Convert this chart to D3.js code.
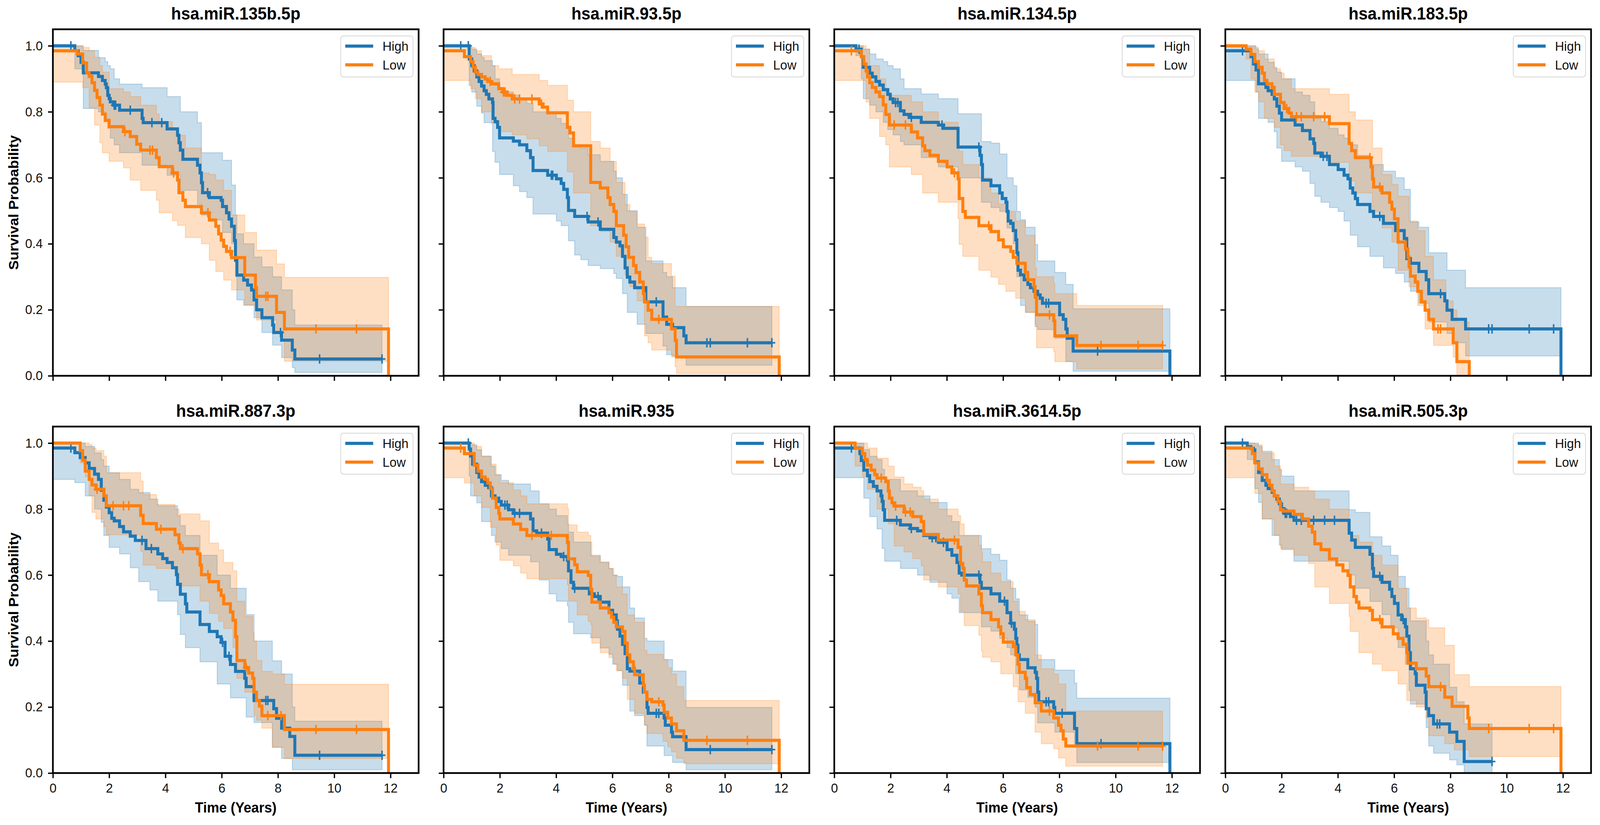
<!DOCTYPE html>
<html>
<head>
<meta charset="utf-8">
<script src="https://cdn.jsdelivr.net/npm/d3@7"></script>
<style>
  html, body { margin: 0; padding: 0; background: #fff; overflow: hidden; }
  svg { display: block; font-family: "Liberation Sans", Arial, sans-serif; }
</style>
</head>
<body>
<script>
// ---- tick labels / categories ----
const xTicks = [0, 2, 4, 6, 8, 10, 12]
const yTicks = [0, 0.2, 0.4, 0.6, 0.8, 1.0]
const groups = ['High', 'Low']
const titles = ['hsa.miR.135b.5p', 'hsa.miR.93.5p', 'hsa.miR.134.5p', 'hsa.miR.183.5p',
                'hsa.miR.887.3p', 'hsa.miR.935', 'hsa.miR.3614.5p', 'hsa.miR.505.3p']

// KM steps [years, survival], CI [years, lower, upper], censor times (years)
const p1High = [[0,1],[0.78,0.985],[0.9,0.97],[1.0,0.95],[1.08,0.918],[1.62,0.907],[1.76,0.895],[1.86,0.884],[1.9,0.873],[1.95,0.85],[2.0,0.84],[2.04,0.83],[2.15,0.82],[2.37,0.805],[3.17,0.78],[3.21,0.767],[4.06,0.748],[4.43,0.729],[4.48,0.706],[4.53,0.684],[4.62,0.656],[5.14,0.638],[5.23,0.615],[5.28,0.585],[5.32,0.555],[5.56,0.54],[5.98,0.532],[6.03,0.513],[6.17,0.494],[6.26,0.475],[6.35,0.453],[6.45,0.41],[6.49,0.35],[6.54,0.305],[6.78,0.29],[6.92,0.275],[7.06,0.26],[7.15,0.23],[7.24,0.2],[7.43,0.176],[7.81,0.154],[7.85,0.131],[8.13,0.108],[8.51,0.078],[8.6,0.051],[11.7,0.051]]
const p1HighCI = [[0,1,1],[0.78,0.93,1],[1.08,0.81,0.986],[1.62,0.8,0.964],[1.86,0.782,0.952],[1.95,0.75,0.94],[2.04,0.72,0.93],[2.18,0.7,0.9],[2.37,0.676,0.884],[3.17,0.638,0.873],[4.06,0.608,0.846],[4.53,0.562,0.8],[5.14,0.52,0.767],[5.28,0.487,0.676],[5.56,0.472,0.676],[6.03,0.434,0.653],[6.35,0.4,0.578],[6.49,0.343,0.487],[6.54,0.23,0.43],[6.78,0.214,0.4],[7.15,0.176,0.36],[7.43,0.131,0.33],[7.81,0.093,0.3],[8.13,0.055,0.26],[8.51,0.025,0.2],[8.6,0.01,0.154],[11.7,0.01,0.154]]
const p1HighCens = [0.64, 2.18, 2.23, 2.75, 3.52, 3.87, 5.5, 8.09, 9.48, 11.7]
const p1Low = [[0,0.985],[0.87,0.975],[1.06,0.948],[1.2,0.918],[1.29,0.907],[1.39,0.888],[1.48,0.865],[1.57,0.843],[1.67,0.82],[1.76,0.793],[1.86,0.774],[2.0,0.755],[2.51,0.74],[2.75,0.725],[2.98,0.702],[3.12,0.684],[3.68,0.661],[3.78,0.634],[4.25,0.615],[4.43,0.593],[4.48,0.555],[4.62,0.532],[4.71,0.513],[5.28,0.494],[5.56,0.472],[5.79,0.453],[5.89,0.43],[5.98,0.411],[6.07,0.392],[6.17,0.377],[6.35,0.358],[6.82,0.305],[7.2,0.267],[7.24,0.241],[7.95,0.192],[8.23,0.142],[11.93,0]]
const p1LowCI = [[0,0.89,1],[0.87,0.89,1],[1.06,0.873,0.995],[1.29,0.812,0.985],[1.48,0.76,0.965],[1.67,0.706,0.94],[1.76,0.676,0.92],[2.0,0.65,0.87],[2.51,0.63,0.86],[2.75,0.593,0.846],[3.12,0.562,0.82],[3.68,0.532,0.793],[3.78,0.494,0.77],[4.25,0.47,0.745],[4.43,0.456,0.729],[4.71,0.419,0.69],[5.28,0.4,0.615],[5.56,0.35,0.61],[5.79,0.316,0.593],[6.07,0.29,0.562],[6.35,0.26,0.487],[6.82,0.214,0.434],[7.24,0.169,0.381],[7.95,0.131,0.339],[8.23,0.044,0.298],[11.93,0.044,0.298]]
const p1LowCens = [2.56, 3.45, 3.54, 4.29, 5.51, 6.3, 7.57, 7.64, 9.35, 10.79]

const p2High = [[0,1],[0.91,0.96],[1.0,0.94],[1.09,0.924],[1.18,0.906],[1.26,0.892],[1.35,0.878],[1.44,0.864],[1.52,0.853],[1.61,0.839],[1.74,0.828],[1.76,0.78],[1.83,0.77],[1.92,0.753],[1.99,0.721],[2.48,0.711],[2.7,0.7],[2.96,0.682],[3.09,0.661],[3.18,0.622],[3.7,0.608],[4.01,0.597],[4.18,0.583],[4.27,0.565],[4.4,0.54],[4.44,0.501],[4.66,0.483],[5.14,0.466],[5.57,0.444],[6.05,0.419],[6.14,0.405],[6.27,0.394],[6.36,0.362],[6.45,0.327],[6.53,0.299],[6.62,0.284],[6.79,0.267],[7.19,0.224],[7.8,0.178],[7.93,0.156],[8.14,0.146],[8.54,0.121],[8.62,0.1],[11.67,0.1]]
const p2HighCI = [[0,1,1],[0.91,0.88,1],[1.0,0.86,0.99],[1.18,0.817,0.975],[1.35,0.796,0.965],[1.44,0.767,0.955],[1.74,0.68,0.94],[1.83,0.647,0.9],[1.99,0.61,0.86],[2.48,0.576,0.85],[2.7,0.558,0.84],[2.96,0.54,0.825],[3.18,0.49,0.8],[4.01,0.469,0.78],[4.18,0.455,0.765],[4.44,0.409,0.72],[4.66,0.366,0.7],[4.88,0.352,0.69],[5.14,0.334,0.67],[5.57,0.325,0.65],[6.05,0.31,0.62],[6.14,0.295,0.6],[6.36,0.249,0.55],[6.53,0.192,0.5],[6.88,0.156,0.45],[7.19,0.128,0.348],[7.8,0.09,0.313],[7.93,0.064,0.3],[8.14,0.06,0.267],[8.62,0.032,0.21],[11.67,0.032,0.21]]
const p2HighCens = [0.61, 0.88, 3.83, 3.88, 5.1, 5.49, 7.56, 9.36, 9.48, 10.8, 11.67]
const p2Low = [[0,0.985],[0.74,0.967],[0.96,0.952],[1.05,0.935],[1.13,0.92],[1.22,0.913],[1.35,0.906],[1.48,0.899],[1.57,0.892],[1.7,0.885],[1.96,0.87],[2.09,0.86],[2.26,0.85],[2.44,0.839],[3.4,0.824],[3.53,0.814],[3.7,0.797],[4.4,0.753],[4.49,0.736],[4.62,0.697],[5.23,0.586],[5.57,0.569],[5.84,0.54],[5.92,0.519],[6.05,0.498],[6.14,0.455],[6.4,0.426],[6.49,0.391],[6.58,0.359],[6.75,0.334],[6.84,0.313],[6.97,0.284],[7.1,0.249],[7.14,0.224],[7.27,0.199],[7.4,0.171],[8.1,0.142],[8.23,0.107],[8.28,0.057],[11.93,0]]
const p2LowCI = [[0,0.895,1],[0.74,0.895,1],[0.96,0.87,0.995],[1.13,0.84,0.985],[1.35,0.8,0.97],[1.7,0.765,0.94],[1.96,0.74,0.93],[2.44,0.73,0.913],[2.96,0.718,0.913],[3.4,0.697,0.895],[3.7,0.68,0.88],[4.4,0.618,0.835],[4.62,0.554,0.8],[5.23,0.455,0.71],[5.57,0.437,0.69],[5.92,0.405,0.65],[6.14,0.362,0.586],[6.45,0.306,0.519],[6.62,0.27,0.498],[6.88,0.227,0.46],[7.14,0.121,0.42],[7.27,0.1,0.359],[7.4,0.078,0.34],[8.1,0.057,0.302],[8.23,0.028,0.21],[8.28,0.007,0.21],[11.93,0.007,0.21]]
const p2LowCens = [1.66, 2.13, 2.18, 2.53, 2.7, 3.14, 3.48, 7.65]

const p3High = [[0,1],[0.77,0.99],[0.96,0.967],[1.03,0.935],[1.26,0.917],[1.35,0.906],[1.48,0.892],[1.61,0.881],[1.74,0.867],[1.9,0.853],[1.99,0.839],[2.09,0.828],[2.35,0.803],[2.48,0.792],[2.66,0.783],[3.09,0.768],[3.7,0.76],[3.88,0.75],[4.4,0.693],[5.18,0.668],[5.23,0.64],[5.27,0.593],[5.57,0.576],[5.88,0.554],[5.97,0.537],[6.1,0.526],[6.14,0.498],[6.18,0.469],[6.27,0.462],[6.36,0.44],[6.45,0.412],[6.49,0.373],[6.53,0.32],[6.62,0.306],[6.75,0.291],[6.88,0.277],[6.97,0.267],[7.1,0.256],[7.23,0.245],[7.32,0.235],[7.4,0.22],[8.01,0.185],[8.14,0.171],[8.23,0.142],[8.28,0.114],[8.49,0.075],[11.93,0]]
const p3HighCI = [[0,1,1],[0.77,0.97,1],[0.96,0.9,1],[1.03,0.84,0.99],[1.26,0.82,0.975],[1.48,0.8,0.96],[1.74,0.768,0.952],[1.9,0.746,0.94],[2.09,0.73,0.93],[2.35,0.71,0.9],[2.48,0.7,0.87],[3.09,0.661,0.854],[3.7,0.633,0.84],[4.4,0.6,0.794],[5.23,0.526,0.71],[5.57,0.51,0.705],[5.88,0.498,0.672],[6.14,0.448,0.6],[6.36,0.4,0.576],[6.49,0.3,0.498],[6.62,0.213,0.473],[6.8,0.192,0.45],[7.14,0.149,0.398],[7.23,0.14,0.348],[7.84,0.114,0.313],[8.23,0.043,0.277],[8.49,0.014,0.203],[11.93,0.014,0.203]]
const p3HighCens = [0.88, 2.18, 2.26, 2.74, 3.83, 5.14, 7.53, 7.62, 9.36]
const p3Low = [[0,0.985],[0.96,0.967],[1.05,0.945],[1.13,0.924],[1.18,0.906],[1.26,0.888],[1.35,0.874],[1.48,0.86],[1.61,0.846],[1.74,0.821],[1.83,0.792],[1.96,0.76],[2.74,0.739],[2.96,0.721],[3.14,0.697],[3.22,0.682],[3.4,0.668],[3.7,0.65],[4.01,0.633],[4.18,0.615],[4.4,0.597],[4.44,0.537],[4.57,0.498],[4.66,0.48],[5.14,0.455],[5.57,0.437],[5.84,0.412],[6.01,0.391],[6.27,0.377],[6.36,0.359],[6.49,0.341],[6.79,0.313],[6.88,0.291],[7.1,0.27],[7.14,0.238],[7.19,0.185],[7.8,0.167],[7.84,0.121],[8.62,0.092],[11.67,0.092]]
const p3LowCI = [[0,0.895,1],[0.96,0.895,1],[1.13,0.83,0.99],[1.26,0.78,0.94],[1.61,0.725,0.9],[1.83,0.7,0.87],[1.96,0.633,0.85],[2.74,0.61,0.83],[3.14,0.554,0.8],[3.7,0.526,0.768],[4.4,0.476,0.697],[4.44,0.398,0.68],[4.57,0.362,0.64],[5.14,0.32,0.6],[5.57,0.299,0.554],[5.84,0.277,0.52],[6.1,0.256,0.498],[6.45,0.235,0.469],[6.79,0.192,0.426],[7.14,0.156,0.327],[7.19,0.085,0.3],[7.8,0.074,0.28],[7.84,0.043,0.249],[8.62,0.021,0.213],[11.67,0.021,0.213]]
const p3LowCens = [0.61, 2.13, 2.53, 4.27, 5.49, 7.65, 9.48, 10.8, 11.67]

const p4High = [[0,0.985],[0.91,0.967],[1.0,0.945],[1.09,0.927],[1.18,0.885],[1.44,0.874],[1.52,0.864],[1.66,0.853],[1.74,0.839],[1.83,0.817],[1.92,0.796],[2.0,0.775],[2.48,0.76],[2.74,0.743],[3.01,0.718],[3.14,0.704],[3.18,0.675],[3.4,0.665],[3.7,0.64],[4.01,0.625],[4.22,0.608],[4.36,0.597],[4.44,0.569],[4.53,0.554],[4.62,0.537],[4.7,0.519],[5.14,0.498],[5.27,0.483],[5.62,0.462],[6.05,0.44],[6.36,0.416],[6.45,0.355],[6.58,0.341],[6.88,0.316],[7.14,0.291],[7.23,0.249],[7.8,0.227],[7.88,0.199],[8.06,0.171],[8.54,0.142],[11.93,0]]
const p4HighCI = [[0,0.895,1],[0.91,0.895,1],[1.09,0.86,0.99],[1.18,0.78,0.975],[1.52,0.768,0.95],[1.74,0.74,0.935],[1.83,0.69,0.92],[2.0,0.65,0.9],[2.48,0.633,0.86],[2.74,0.62,0.85],[3.01,0.583,0.83],[3.18,0.544,0.78],[3.4,0.526,0.77],[3.7,0.51,0.75],[4.01,0.498,0.73],[4.22,0.469,0.72],[4.44,0.426,0.7],[4.7,0.391,0.668],[5.14,0.362,0.64],[5.62,0.327,0.62],[6.05,0.31,0.6],[6.36,0.284,0.565],[6.58,0.256,0.466],[6.88,0.22,0.45],[7.23,0.163,0.373],[7.88,0.128,0.32],[8.06,0.1,0.32],[8.54,0.06,0.267],[11.93,0.06,0.267]]
const p4HighCens = [0.61, 3.48, 3.61, 5.49, 7.65, 9.36, 9.48, 10.8, 11.67]
const p4Low = [[0,1],[0.74,0.99],[0.91,0.974],[1.05,0.952],[1.18,0.935],[1.31,0.917],[1.39,0.895],[1.48,0.885],[1.66,0.874],[1.74,0.853],[1.96,0.828],[2.09,0.81],[2.26,0.796],[2.35,0.785],[3.7,0.764],[4.4,0.704],[4.49,0.682],[4.62,0.661],[5.18,0.633],[5.23,0.597],[5.27,0.572],[5.57,0.554],[5.84,0.526],[5.92,0.505],[6.01,0.476],[6.14,0.405],[6.4,0.384],[6.49,0.36],[6.53,0.33],[6.58,0.302],[6.75,0.284],[6.84,0.256],[6.97,0.224],[7.1,0.199],[7.23,0.171],[7.4,0.142],[8.1,0.1],[8.23,0.043],[8.67,0]]
const p4LowCI = [[0,1,1],[0.74,0.96,1],[0.91,0.9,1],[1.05,0.86,0.995],[1.18,0.83,0.985],[1.39,0.78,0.96],[1.74,0.753,0.93],[1.96,0.7,0.917],[2.09,0.682,0.9],[2.35,0.665,0.87],[3.7,0.647,0.853],[4.4,0.59,0.8],[4.62,0.554,0.775],[5.23,0.498,0.69],[5.57,0.448,0.61],[5.92,0.405,0.58],[6.14,0.32,0.544],[6.53,0.27,0.469],[6.84,0.213,0.44],[7.1,0.142,0.362],[7.4,0.092,0.291],[7.84,0.092,0.227],[8.1,0.057,0.2],[8.23,0,0.163],[8.67,0,0.163]]
const p4LowCens = [2.18, 2.53, 2.7, 3.14, 3.53, 5.14, 5.49, 7.56, 7.65]

const p5High = [[0,0.985],[0.78,0.971],[0.97,0.956],[1.15,0.94],[1.29,0.923],[1.48,0.906],[1.62,0.89],[1.72,0.857],[1.81,0.827],[1.9,0.806],[2.0,0.789],[2.09,0.772],[2.18,0.764],[2.37,0.747],[2.51,0.731],[2.75,0.718],[2.93,0.705],[3.31,0.68],[3.73,0.664],[3.9,0.65],[4.06,0.638],[4.25,0.622],[4.39,0.601],[4.43,0.572],[4.53,0.542],[4.71,0.513],[4.76,0.488],[5.23,0.45],[5.56,0.429],[5.84,0.413],[5.98,0.396],[6.12,0.354],[6.31,0.329],[6.49,0.308],[6.82,0.287],[6.87,0.262],[7.15,0.22],[7.85,0.195],[7.95,0.166],[8.13,0.136],[8.42,0.111],[8.6,0.054],[11.7,0.054]]
const p5HighCI = [[0,0.89,1],[0.78,0.88,1],[1.15,0.84,0.99],[1.48,0.8,0.97],[1.72,0.76,0.95],[1.81,0.72,0.93],[2.0,0.684,0.91],[2.37,0.664,0.89],[2.75,0.622,0.86],[3.05,0.58,0.85],[3.45,0.555,0.83],[3.73,0.521,0.81],[4.43,0.48,0.78],[4.53,0.42,0.75],[4.71,0.38,0.72],[5.23,0.337,0.66],[5.84,0.27,0.6],[6.31,0.228,0.56],[6.87,0.17,0.48],[7.15,0.153,0.4],[7.8,0.078,0.34],[8.13,0.044,0.3],[8.51,0.01,0.2],[8.6,0.01,0.157],[11.7,0.01,0.157]]
const p5HighCens = [0.64, 3.17, 3.5, 6.03, 6.26, 7.57, 7.64, 9.48, 11.7]
const p5Low = [[0,1],[0.97,0.977],[1.06,0.948],[1.15,0.915],[1.29,0.89],[1.39,0.873],[1.53,0.86],[1.81,0.84],[1.9,0.81],[3.12,0.781],[3.21,0.756],[3.68,0.739],[4.34,0.722],[4.48,0.697],[4.53,0.68],[5.14,0.664],[5.23,0.63],[5.28,0.601],[5.56,0.58],[5.89,0.555],[5.98,0.538],[6.07,0.513],[6.31,0.488],[6.4,0.463],[6.49,0.413],[6.54,0.341],[6.82,0.32],[6.96,0.303],[7.1,0.287],[7.15,0.245],[7.24,0.22],[7.34,0.203],[7.43,0.174],[8.23,0.132],[11.93,0]]
const p5LowCI = [[0,1,1],[0.97,0.94,1],[1.15,0.898,1],[1.29,0.84,0.995],[1.39,0.79,0.985],[1.53,0.77,0.977],[1.81,0.747,0.96],[1.9,0.722,0.91],[3.12,0.672,0.885],[3.21,0.63,0.844],[3.68,0.62,0.814],[4.34,0.605,0.8],[4.48,0.567,0.785],[5.23,0.521,0.764],[5.56,0.484,0.697],[5.89,0.46,0.676],[6.07,0.438,0.638],[6.4,0.38,0.613],[6.54,0.287,0.521],[6.82,0.245,0.475],[7.1,0.22,0.425],[7.15,0.174,0.4],[7.24,0.16,0.341],[7.43,0.136,0.308],[7.8,0.078,0.3],[8.23,0.044,0.269],[11.93,0.044,0.269]]
const p5LowCens = [1.57, 2.14, 2.51, 2.7, 3.84, 4.62, 5.51, 6.87, 7.64, 8.11, 9.35, 10.79]

const p6High = [[0,1],[0.91,0.982],[0.96,0.961],[1.03,0.936],[1.18,0.911],[1.26,0.897],[1.35,0.883],[1.48,0.872],[1.6,0.865],[1.7,0.84],[1.83,0.833],[1.96,0.823],[2.05,0.812],[2.31,0.798],[2.48,0.787],[3.09,0.77],[3.18,0.734],[3.31,0.727],[3.7,0.709],[3.75,0.677],[4.01,0.663],[4.18,0.656],[4.4,0.645],[4.44,0.613],[4.53,0.578],[4.62,0.56],[5.18,0.543],[5.36,0.535],[5.57,0.518],[5.88,0.493],[6.01,0.479],[6.14,0.461],[6.18,0.436],[6.27,0.415],[6.36,0.39],[6.45,0.362],[6.53,0.316],[6.62,0.309],[6.97,0.273],[7.1,0.245],[7.23,0.199],[7.27,0.181],[7.84,0.167],[7.88,0.145],[8.1,0.124],[8.14,0.11],[8.62,0.071],[11.67,0.071]]
const p6HighCI = [[0,1,1],[0.91,0.9,1],[0.96,0.84,0.995],[1.18,0.819,0.98],[1.35,0.762,0.96],[1.7,0.72,0.93],[1.83,0.7,0.904],[2.05,0.68,0.887],[2.31,0.66,0.876],[3.09,0.64,0.855],[3.4,0.585,0.816],[3.75,0.543,0.8],[4.01,0.521,0.78],[4.4,0.507,0.755],[4.44,0.457,0.73],[4.62,0.422,0.7],[5.23,0.41,0.66],[5.57,0.379,0.638],[5.88,0.36,0.62],[6.01,0.33,0.6],[6.18,0.31,0.596],[6.36,0.266,0.564],[6.62,0.188,0.5],[6.79,0.174,0.47],[7.14,0.145,0.408],[7.23,0.082,0.4],[7.84,0.053,0.344],[8.14,0.032,0.309],[8.62,0.01,0.199],[11.67,0.01,0.199]]
const p6HighCens = [0.88, 2.18, 2.26, 2.53, 2.7, 3.48, 4.27, 4.66, 5.49, 6.79, 7.56, 7.65, 9.48, 11.67]
const p6Low = [[0,0.985],[0.74,0.968],[1.09,0.933],[1.22,0.915],[1.35,0.897],[1.48,0.89],[1.57,0.879],[1.66,0.862],[1.74,0.833],[1.87,0.805],[1.96,0.787],[2.0,0.77],[2.48,0.755],[2.74,0.738],[2.96,0.72],[4.4,0.699],[4.44,0.649],[4.66,0.631],[4.75,0.61],[5.14,0.599],[5.23,0.557],[5.27,0.518],[5.57,0.5],[5.88,0.486],[5.97,0.472],[6.05,0.457],[6.14,0.443],[6.36,0.429],[6.45,0.394],[6.53,0.358],[6.62,0.337],[6.75,0.316],[6.79,0.298],[7.1,0.266],[7.14,0.245],[7.23,0.223],[7.4,0.216],[7.8,0.206],[7.84,0.184],[7.97,0.167],[8.1,0.149],[8.28,0.128],[8.54,0.099],[11.93,0]]
const p6LowCI = [[0,0.895,1],[0.74,0.879,1],[1.09,0.84,0.99],[1.35,0.805,0.961],[1.66,0.745,0.936],[1.87,0.691,0.904],[2.0,0.645,0.88],[2.48,0.628,0.858],[2.74,0.606,0.84],[2.96,0.589,0.816],[4.4,0.57,0.801],[4.44,0.521,0.752],[4.75,0.479,0.73],[5.14,0.46,0.72],[5.23,0.45,0.7],[5.27,0.394,0.656],[5.57,0.365,0.64],[5.88,0.35,0.62],[6.05,0.33,0.6],[6.14,0.31,0.564],[6.36,0.287,0.543],[6.53,0.223,0.479],[6.79,0.181,0.457],[7.14,0.145,0.372],[7.23,0.12,0.36],[7.8,0.096,0.344],[7.97,0.08,0.319],[8.1,0.064,0.3],[8.28,0.045,0.262],[8.54,0.028,0.22],[11.93,0.028,0.22]]
const p6LowCens = [0.61, 3.14, 3.83, 7.65, 9.36, 10.8]

const p7High = [[0,0.985],[0.91,0.968],[0.96,0.947],[1.05,0.918],[1.18,0.901],[1.26,0.883],[1.39,0.869],[1.52,0.855],[1.66,0.84],[1.7,0.823],[1.74,0.798],[1.79,0.766],[2.35,0.752],[2.7,0.741],[2.96,0.734],[3.18,0.72],[3.4,0.713],[3.7,0.699],[4.01,0.677],[4.18,0.66],[4.36,0.638],[4.44,0.606],[4.53,0.6],[5.18,0.578],[5.23,0.56],[5.57,0.543],[5.88,0.521],[6.14,0.486],[6.27,0.454],[6.4,0.436],[6.45,0.408],[6.49,0.387],[6.53,0.358],[6.58,0.344],[6.88,0.319],[7.14,0.305],[7.19,0.287],[7.23,0.245],[7.27,0.216],[7.8,0.199],[7.84,0.181],[8.54,0.135],[8.62,0.089],[11.93,0]]
const p7HighCI = [[0,0.895,1],[0.91,0.895,1],[1.05,0.833,0.98],[1.26,0.777,0.96],[1.52,0.74,0.95],[1.7,0.681,0.92],[1.79,0.642,0.89],[2.35,0.62,0.855],[2.96,0.6,0.84],[3.4,0.578,0.82],[4.01,0.543,0.78],[4.18,0.53,0.762],[4.44,0.486,0.72],[5.23,0.443,0.68],[5.57,0.43,0.663],[5.88,0.408,0.645],[6.14,0.38,0.585],[6.27,0.358,0.56],[6.45,0.301,0.528],[6.58,0.252,0.479],[6.88,0.23,0.46],[7.14,0.2,0.45],[7.23,0.152,0.344],[7.84,0.124,0.312],[8.54,0.08,0.273],[8.62,0.032,0.227],[11.93,0.032,0.227]]
const p7HighCens = [0.61, 2.22, 2.74, 3.48, 3.61, 3.88, 5.14, 6.05, 6.3, 7.53, 7.62, 8.1, 9.48]
const p7Low = [[0,1],[0.74,0.984],[1.0,0.968],[1.09,0.95],[1.18,0.933],[1.31,0.918],[1.44,0.904],[1.52,0.894],[1.83,0.883],[1.92,0.855],[1.96,0.833],[2.05,0.819],[2.13,0.809],[2.48,0.791],[2.79,0.777],[3.09,0.762],[3.18,0.723],[3.7,0.706],[4.4,0.684],[4.49,0.635],[4.57,0.62],[4.62,0.585],[4.7,0.567],[5.14,0.543],[5.23,0.507],[5.27,0.486],[5.57,0.465],[5.84,0.443],[5.92,0.422],[6.01,0.397],[6.36,0.383],[6.45,0.358],[6.53,0.33],[6.58,0.305],[6.79,0.287],[6.84,0.259],[6.97,0.238],[7.14,0.213],[7.36,0.188],[7.8,0.167],[7.97,0.145],[8.06,0.128],[8.14,0.103],[8.23,0.082],[11.67,0.082]]
const p7LowCI = [[0,1,1],[0.74,0.93,1],[1.0,0.897,1],[1.18,0.86,0.985],[1.52,0.8,0.954],[1.92,0.755,0.93],[2.13,0.688,0.897],[2.48,0.67,0.876],[2.79,0.65,0.866],[3.09,0.628,0.855],[3.18,0.585,0.83],[3.7,0.564,0.8],[4.4,0.543,0.78],[4.49,0.49,0.755],[4.62,0.447,0.72],[5.14,0.418,0.69],[5.23,0.37,0.67],[5.27,0.351,0.64],[5.57,0.337,0.606],[5.92,0.301,0.58],[6.36,0.262,0.521],[6.53,0.216,0.49],[6.79,0.181,0.465],[7.14,0.124,0.358],[7.36,0.089,0.316],[7.8,0.074,0.3],[7.97,0.046,0.27],[8.23,0.021,0.188],[11.67,0.021,0.188]]
const p7LowCens = [1.67, 2.18, 2.53, 2.7, 4.27, 7.65, 9.36, 10.8, 11.67]

const p8High = [[0,1],[0.78,0.989],[0.91,0.984],[1.0,0.979],[1.05,0.943],[1.18,0.911],[1.31,0.887],[1.44,0.872],[1.52,0.862],[1.66,0.851],[1.74,0.84],[1.83,0.83],[1.92,0.816],[2.0,0.801],[2.09,0.787],[2.31,0.777],[2.44,0.766],[4.4,0.727],[4.49,0.706],[4.62,0.684],[5.14,0.663],[5.23,0.62],[5.27,0.596],[5.57,0.578],[5.84,0.557],[5.92,0.535],[6.01,0.514],[6.14,0.479],[6.27,0.465],[6.4,0.443],[6.45,0.415],[6.53,0.365],[6.58,0.316],[6.75,0.301],[6.79,0.266],[7.1,0.245],[7.14,0.195],[7.23,0.174],[7.4,0.149],[7.97,0.124],[8.23,0.096],[8.49,0.035],[9.48,0.035]]
const p8HighCI = [[0,1,1],[0.78,0.95,1],[1.05,0.862,1],[1.18,0.82,0.99],[1.31,0.77,0.975],[1.66,0.72,0.95],[1.92,0.691,0.92],[2.0,0.677,0.9],[2.44,0.642,0.855],[4.4,0.6,0.798],[4.62,0.56,0.79],[5.14,0.52,0.716],[5.57,0.48,0.688],[5.88,0.44,0.66],[6.14,0.38,0.596],[6.4,0.33,0.56],[6.53,0.25,0.5],[6.58,0.209,0.461],[7.14,0.138,0.4],[7.23,0.082,0.358],[7.4,0.06,0.33],[7.97,0.04,0.26],[8.23,0.025,0.216],[8.49,0,0.149],[9.48,0,0.149]]
const p8HighCens = [0.61, 2.13, 2.18, 2.53, 2.7, 3.14, 3.53, 3.88, 5.49, 6.32, 7.53, 7.62, 9.48]
const p8Low = [[0,0.985],[0.96,0.968],[1.05,0.94],[1.18,0.922],[1.31,0.904],[1.48,0.887],[1.57,0.872],[1.66,0.855],[1.74,0.84],[1.87,0.823],[1.96,0.798],[2.05,0.794],[2.44,0.784],[2.74,0.77],[2.96,0.748],[3.09,0.73],[3.18,0.695],[3.4,0.677],[3.7,0.649],[3.96,0.631],[4.18,0.613],[4.36,0.599],[4.44,0.564],[4.57,0.535],[4.66,0.518],[4.75,0.5],[5.14,0.493],[5.23,0.465],[5.57,0.443],[5.97,0.422],[6.14,0.408],[6.32,0.39],[6.45,0.365],[6.49,0.333],[6.79,0.316],[7.14,0.294],[7.23,0.262],[7.8,0.23],[8.06,0.202],[8.62,0.167],[8.67,0.135],[11.93,0]]
const p8LowCI = [[0,0.895,1],[0.96,0.895,1],[1.05,0.847,0.995],[1.31,0.77,0.97],[1.74,0.72,0.93],[1.96,0.681,0.876],[2.44,0.66,0.866],[2.96,0.635,0.855],[3.18,0.564,0.83],[3.7,0.514,0.8],[4.4,0.475,0.76],[4.44,0.429,0.72],[4.75,0.365,0.7],[5.23,0.33,0.66],[5.57,0.31,0.63],[6.14,0.27,0.56],[6.45,0.22,0.5],[6.79,0.2,0.47],[7.14,0.167,0.465],[7.23,0.113,0.44],[7.8,0.089,0.387],[8.14,0.07,0.298],[8.67,0.05,0.262],[11.93,0.05,0.262]]
const p8LowCens = [5.49, 7.65, 9.36, 10.8, 11.67]

const panels = [
  [p1High, p1HighCI, p1HighCens, p1Low, p1LowCI, p1LowCens],
  [p2High, p2HighCI, p2HighCens, p2Low, p2LowCI, p2LowCens],
  [p3High, p3HighCI, p3HighCens, p3Low, p3LowCI, p3LowCens],
  [p4High, p4HighCI, p4HighCens, p4Low, p4LowCI, p4LowCens],
  [p5High, p5HighCI, p5HighCens, p5Low, p5LowCI, p5LowCens],
  [p6High, p6HighCI, p6HighCens, p6Low, p6LowCI, p6LowCens],
  [p7High, p7HighCI, p7HighCens, p7Low, p7LowCI, p7LowCens],
  [p8High, p8HighCI, p8HighCens, p8Low, p8LowCI, p8LowCens]
].map((d, i) => ({
  title: titles[i],
  series: [
    { name: groups[0], steps: d[0], ci: d[1], cens: d[2] },
    { name: groups[1], steps: d[3], ci: d[4], cens: d[5] }
  ]
}))

// ---- layout (drawn in a 4296x2112 frame, scaled to the window) ----
const W = 4296, H = 2112
const colLeft = [142, 1191, 2240, 3290]
const rowTop = [75, 1092]
const plotW = 982, plotH = 887
const colors = { High: '#1f77b4', Low: '#ff7f0e' }

const svg = d3.select('body').append('svg')
    .attr('viewBox', `0 0 ${W} ${H}`)
    .attr('preserveAspectRatio', 'none')
    .attr('width', window.innerWidth || W)
    .attr('height', window.innerHeight || H)

svg.append('rect').attr('width', W).attr('height', H).attr('fill', '#fff')

const survAt = (steps, t) => {
    const i = d3.bisector(d => d[0]).right(steps, t) - 1
    return steps[Math.max(0, i)][1]
}

panels.forEach((p, i) => {
    const col = i % 4, row = Math.floor(i / 4)
    const left = colLeft[col], top = rowTop[row]

    const x = d3.scaleLinear().domain([0, 13]).range([left, left + plotW])
    const y = d3.scaleLinear().domain([0, 1.05]).range([top + plotH, top])

    const g = svg.append('g')

    const clipId = 'clip' + i
    g.append('clipPath').attr('id', clipId)
        .append('rect')
        .attr('x', left).attr('y', top - 2)
        .attr('width', plotW).attr('height', plotH + 4)

    const plot = g.append('g').attr('clip-path', `url(#${clipId})`)

    const area = d3.area()
        .curve(d3.curveStepAfter)
        .x(d => x(d[0]))
        .y0(d => y(d[1]))
        .y1(d => y(d[2]))

    const line = d3.line()
        .curve(d3.curveStepAfter)
        .x(d => x(d[0]))
        .y(d => y(d[1]))

    // confidence bands
    p.series.forEach(s => {
        plot.append('path')
            .attr('d', area(s.ci))
            .attr('fill', colors[s.name])
            .attr('fill-opacity', 0.25)
            .attr('stroke', colors[s.name])
            .attr('stroke-opacity', 0.25)
            .attr('stroke-width', 2.5)
    })

    // survival curves + censor marks
    p.series.forEach(s => {
        plot.append('path')
            .attr('d', line(s.steps))
            .attr('fill', 'none')
            .attr('stroke', colors[s.name])
            .attr('stroke-width', 8)
            .attr('stroke-linejoin', 'miter')

        plot.append('g')
            .selectAll('path')
            .data(s.cens)
            .enter()
            .append('path')
            .attr('d', t => {
                const cx = x(t), cy = y(survAt(s.steps, t))
                return `M${cx},${cy - 12}V${cy + 12}M${cx - 9},${cy}H${cx + 9}`
            })
            .attr('stroke', colors[s.name])
            .attr('stroke-width', 4)
    })

    // axes
    const xAxis = d3.axisBottom(x)
        .tickValues(xTicks)
        .tickSize(13)
        .tickPadding(13)
        .tickFormat(row === 1 ? d3.format('d') : () => '')

    const yAxis = d3.axisLeft(y)
        .tickValues(yTicks)
        .tickSize(13)
        .tickPadding(14)
        .tickFormat(col === 0 ? d3.format('.1f') : () => '')

    const gx = g.append('g')
        .attr('transform', `translate(0,${top + plotH})`)
        .call(xAxis)
    const gy = g.append('g')
        .attr('transform', `translate(${left},0)`)
        .call(yAxis)

    ;[gx, gy].forEach(a => {
        a.attr('font-size', 34).attr('font-family', null)
        a.select('.domain').remove()
        a.selectAll('.tick line').attr('stroke', '#000').attr('stroke-width', 3.5)
        a.selectAll('.tick text').attr('fill', '#111')
    })

    // frame
    g.append('rect')
        .attr('x', left).attr('y', top)
        .attr('width', plotW).attr('height', plotH)
        .attr('fill', 'none')
        .attr('stroke', '#000')
        .attr('stroke-width', 4.5)

    // title
    g.append('text')
        .text(p.title)
        .attr('x', left + plotW / 2)
        .attr('y', top - 25)
        .attr('text-anchor', 'middle')
        .attr('font-size', 44)
        .attr('font-weight', 'bold')
        .attr('fill', '#000')

    // legend
    const lg = g.append('g').attr('transform', `translate(${left + plotW - 209},${top + 17})`)
    lg.append('rect')
        .attr('width', 194).attr('height', 105)
        .attr('rx', 7)
        .attr('fill', '#fff').attr('fill-opacity', 0.8)
        .attr('stroke', '#d6d6d6').attr('stroke-width', 2)
    groups.forEach((name, k) => {
        const ly = 26 + k * 48
        lg.append('line')
            .attr('x1', 12).attr('x2', 87)
            .attr('y1', ly).attr('y2', ly)
            .attr('stroke', colors[name]).attr('stroke-width', 8)
        lg.append('text')
            .text(name)
            .attr('x', 112).attr('y', ly + 12)
            .attr('font-size', 34)
            .attr('fill', '#111')
    })

    // axis labels
    if (row === 1) {
        g.append('text')
            .text('Time (Years)')
            .attr('x', left + plotW / 2)
            .attr('y', 2080)
            .attr('text-anchor', 'middle')
            .attr('font-size', 37)
            .attr('font-weight', 'bold')
    }
    if (col === 0) {
        g.append('text')
            .text('Survival Probability')
            .attr('transform', `translate(36,${top + plotH / 2}) rotate(-90)`)
            .attr('text-anchor', 'middle')
            .attr('dominant-baseline', 'central')
            .attr('font-size', 37)
            .attr('font-weight', 'bold')
    }
})
</script>
</body>
</html>
